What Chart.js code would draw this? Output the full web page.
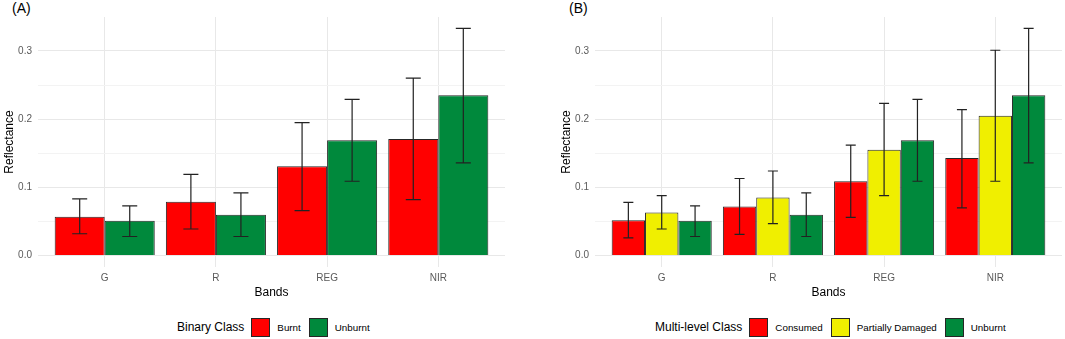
<!DOCTYPE html>
<html>
<head>
<meta charset="utf-8">
<script src="https://cdn.jsdelivr.net/npm/chart.js@4"></script>
<style>
  body { margin: 0; width: 1065px; height: 339px; background: #fff; position: relative; overflow: hidden;
         font-family: "Liberation Sans", Arial, sans-serif; }
  .panel { position: absolute; top: 0; height: 300px; }
  .tag { position: absolute; top: 1px; font-size: 14px; line-height: 14px; color: #000; }
  .legend { position: absolute; top: 318px; height: 18px; display: flex; align-items: center; gap: 7px; color: #000; }
  .legend .title { font-size: 12px; }
  .legend .key { width: 17px; height: 17px; border: 1px solid #262626; box-sizing: content-box; }
  .legend .lab { font-size: 9.8px; margin-right: 1px; }
</style>
</head>
<body>
<div class="tag" style="left:12px">(A)</div>
<div class="tag" style="left:569px">(B)</div>
<div class="panel" style="left:0; width:530px"><canvas id="chartA"></canvas></div>
<div class="panel" style="left:557px; width:508px"><canvas id="chartB"></canvas></div>
<div class="legend" id="legendA" style="left:177px"></div>
<div class="legend" id="legendB" style="left:655px"></div>

<script>
/**
 * Band reflectance per class, mean with error bars — two panels.
 */

var BANDS = ['G', 'R', 'REG', 'NIR'];
var Y_TICKS = [0, 0.1, 0.2, 0.3];
var Y_MINOR = [0.05, 0.15, 0.25];

// (A) binary class
var A_BURNT = [0.057, 0.079, 0.131, 0.171];
var A_BURNT_LO = [0.032, 0.039, 0.066, 0.082];
var A_BURNT_HI = [0.083, 0.119, 0.195, 0.260];
var A_UNBURNT = [0.051, 0.060, 0.169, 0.235];
var A_UNBURNT_LO = [0.028, 0.028, 0.109, 0.136];
var A_UNBURNT_HI = [0.073, 0.092, 0.229, 0.333];

// (B) multi-level class
var B_CONSUMED = [0.052, 0.072, 0.109, 0.143];
var B_CONSUMED_LO = [0.026, 0.031, 0.056, 0.070];
var B_CONSUMED_HI = [0.078, 0.113, 0.162, 0.214];
var B_PARTIAL = [0.063, 0.085, 0.155, 0.205];
var B_PARTIAL_LO = [0.039, 0.047, 0.088, 0.109];
var B_PARTIAL_HI = [0.088, 0.124, 0.223, 0.301];
var B_UNBURNT = [0.051, 0.060, 0.169, 0.235];
var B_UNBURNT_LO = [0.028, 0.028, 0.109, 0.136];
var B_UNBURNT_HI = [0.073, 0.092, 0.229, 0.333];

var COLORS = { red: '#FF0000', yellow: '#F0EF00', green: '#00893C' };
var GRID_MAJOR = '#e8e8e8';
var GRID_MINOR = '#f3f3f3';
var TEXT_AXIS = '#5a5a5a';

var errorBars = {
  id: 'errorBars',
  afterDatasetsDraw: function (chart) {
    var ctx = chart.ctx;
    var y = chart.scales.y;
    ctx.save();
    ctx.strokeStyle = '#222';
    ctx.lineWidth = 1.2;
    chart.data.datasets.forEach(function (ds, d) {
      var meta = chart.getDatasetMeta(d);
      meta.data.forEach(function (bar, i) {
        var top = y.getPixelForValue(ds.errHigh[i]);
        var bot = y.getPixelForValue(ds.errLow[i]);
        var half = bar.width * 0.15;
        ctx.beginPath();
        ctx.moveTo(bar.x, top); ctx.lineTo(bar.x, bot);
        ctx.moveTo(bar.x - half, top); ctx.lineTo(bar.x + half, top);
        ctx.moveTo(bar.x - half, bot); ctx.lineTo(bar.x + half, bot);
        ctx.stroke();
      });
    });
    ctx.restore();
  }
};

function toPoints(values) {
  return values.map(function (v, i) { return { x: i, y: v }; });
}

function makeDataset(label, color, values, lo, hi) {
  return {
    label: label,
    data: toPoints(values),
    backgroundColor: color,
    borderColor: '#262626',
    borderWidth: 1,
    categoryPercentage: 0.9,
    barPercentage: 1.0,
    errLow: lo,
    errHigh: hi,
  };
}

function createPanel(canvasId, datasets, rightPad) {
  var ctx = document.getElementById(canvasId).getContext('2d');
  var allTicks = Y_TICKS.concat(Y_MINOR).sort(function (a, b) { return a - b; });

  return new Chart(ctx, {
    type: 'bar',
    data: { datasets: datasets },
    plugins: [errorBars],
    options: {
      responsive: true,
      maintainAspectRatio: false,
      animation: false,
      layout: { padding: { top: 17, right: rightPad, left: 0, bottom: 0 } },
      plugins: { legend: { display: false }, tooltip: { enabled: false } },
      scales: {
        x: {
          type: 'linear',
          min: -0.6,
          max: 3.6,
          offset: false,
          afterBuildTicks: function (scale) {
            scale.ticks = BANDS.map(function (b, i) { return { value: i }; });
          },
          afterFit: function (scale) { scale.height = 33; },
          ticks: {
            color: TEXT_AXIS,
            font: { family: 'Liberation Sans', size: 10 },
            padding: 5,
            maxRotation: 0,
            callback: function (v) { return BANDS[v]; },
          },
          grid: { color: GRID_MAJOR, lineWidth: 1, drawTicks: false, offset: false },
          border: { display: false },
          title: { display: true, text: 'Bands', color: '#000', font: { family: 'Liberation Sans', size: 12 }, padding: { top: 0, bottom: 0 } },
        },
        y: {
          min: -0.0167,
          max: 0.3497,
          afterBuildTicks: function (scale) {
            scale.ticks = allTicks.map(function (v) { return { value: v }; });
          },
          afterFit: function (scale) { scale.width = 38; },
          ticks: {
            color: TEXT_AXIS,
            autoSkip: false,
            font: { family: 'Liberation Sans', size: 10 },
            padding: 6,
            callback: function (v) { return Y_TICKS.indexOf(v) >= 0 ? v.toFixed(1) : ''; },
          },
          grid: {
            drawTicks: false,
            lineWidth: 1,
            color: function (c) { return Y_TICKS.indexOf(c.tick.value) >= 0 ? GRID_MAJOR : GRID_MINOR; },
          },
          border: { display: false },
          title: { display: true, text: 'Reflectance', color: '#000', font: { family: 'Liberation Sans', size: 12 }, padding: { top: 2, bottom: 0 } },
        },
      },
    },
  });
}

function buildLegend(id, title, items) {
  var el = document.getElementById(id);
  var html = '<span class="title">' + title + '</span>';
  items.forEach(function (it) {
    html += '<span class="key" style="background:' + it[1] + '"></span><span class="lab">' + it[0] + '</span>';
  });
  el.innerHTML = html;
}

createPanel('chartA', [
  makeDataset('Burnt', COLORS.red, A_BURNT, A_BURNT_LO, A_BURNT_HI),
  makeDataset('Unburnt', COLORS.green, A_UNBURNT, A_UNBURNT_LO, A_UNBURNT_HI),
], 25);

createPanel('chartB', [
  makeDataset('Consumed', COLORS.red, B_CONSUMED, B_CONSUMED_LO, B_CONSUMED_HI),
  makeDataset('Partially Damaged', COLORS.yellow, B_PARTIAL, B_PARTIAL_LO, B_PARTIAL_HI),
  makeDataset('Unburnt', COLORS.green, B_UNBURNT, B_UNBURNT_LO, B_UNBURNT_HI),
], 3);

buildLegend('legendA', 'Binary Class', [['Burnt', COLORS.red], ['Unburnt', COLORS.green]]);
buildLegend('legendB', 'Multi-level Class', [['Consumed', COLORS.red], ['Partially Damaged', COLORS.yellow], ['Unburnt', COLORS.green]]);
</script>
</body>
</html>
